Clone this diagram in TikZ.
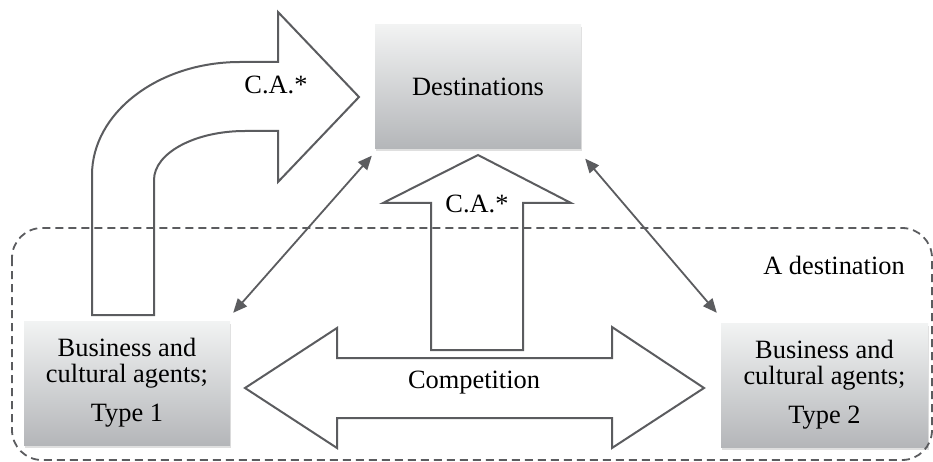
\documentclass[tikz,border=0pt]{standalone}
\usepackage{fontspec}
\setmainfont{Liberation Serif}
\usetikzlibrary{arrows.meta,shadows,calc}
\definecolor{edge}{HTML}{5B5C5F}
\definecolor{boxtop}{HTML}{F2F3F3}
\definecolor{boxmid}{HTML}{DFE0E1}
\definecolor{boxbot}{HTML}{B4B6B9}
\begin{document}
\begin{tikzpicture}[x=1pt,y=-1pt,
  font=\fontsize{26.4}{26}\selectfont,
  agentbox/.style={rectangle, minimum width=206pt, minimum height=124pt,
    inner sep=0pt, align=center,
    top color=boxtop, middle color=boxmid, bottom color=boxbot,
    drop shadow={opacity=0.25, shadow xshift=1pt, shadow yshift=-3pt}},
  bigarrow/.style={draw=edge, line width=2pt, fill=white, line join=miter},
  link/.style={draw=edge, line width=1.8pt,
    {Triangle[length=14pt,width=12pt]}-{Triangle[length=14pt,width=12pt]}},
  region/.style={draw=edge, line width=1.8pt, dash pattern=on 8pt off 5pt,
    rounded corners=30pt},
  lbl/.style={anchor=base, inner sep=0pt}]
\useasboundingbox (0,0) rectangle (933,462);

% curved arrow from agents of type 1 up to the destinations
\draw[bigarrow] (92,315) -- (92,175)
  .. controls (92,113) and (158,62) .. (240,62) -- (278,62) -- (278,12)
  -- (359,97) -- (278,182) -- (278,131) -- (245,131)
  .. controls (195,131) and (154,153) .. (154,180) -- (154,315) -- cycle;
\node[lbl] (ca1) at (276,94) {C.A.*};

% central upward arrow
\draw[bigarrow] (431,350) -- (431,203) -- (383,203) -- (478,155)
  -- (571,203) -- (523,203) -- (523,350) -- cycle;
\node[lbl] (ca2) at (477,213) {C.A.*};

% competition double arrow
\draw[bigarrow] (245,388) -- (337,328) -- (337,358) -- (612,358) -- (612,327)
  -- (704,388) -- (612,448) -- (612,418) -- (337,418) -- (337,448) -- cycle;
\node[lbl] (comp) at (474,388) {Competition};

% boxes
\node[agentbox] (dest) at (478,86.5) {Destinations};
\node[agentbox] (t1) at (127,383) {Business and\\cultural agents;\\[13pt]Type 1};
\node[agentbox, minimum width=207pt] (t2) at (824.5,385) {Business and\\cultural agents;\\[13pt]Type 2};

% the destination region
\draw[region] (12,228) rectangle (932,460);
\node[lbl] (reg) at (834,274) {A destination};

% two-way links with the destinations
\draw[link] ([shift={(3,-8)}]t1.north east) -- ([shift={(-3,7)}]dest.south west);
\draw[link] ([shift={(4,10)}]dest.south east) -- ([shift={(-4,-10)}]t2.north west);
\end{tikzpicture}
\end{document}
